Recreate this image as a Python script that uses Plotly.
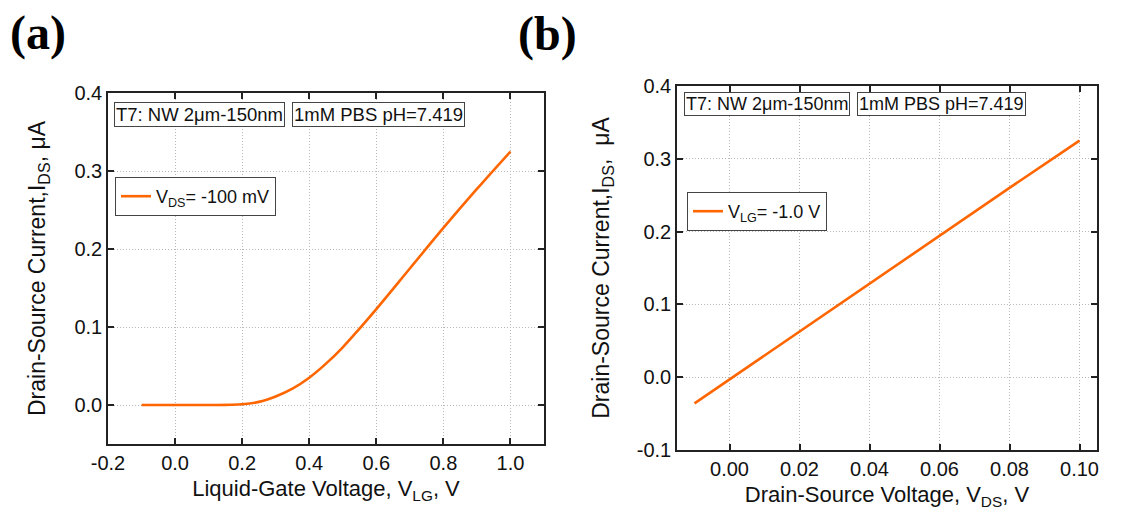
import plotly.graph_objects as go

# Panel (a): transfer curve
vlg = [-0.1, 0.0, 0.1, 0.2, 0.25, 0.3, 0.35, 0.4, 0.45, 0.5, 0.55, 0.6, 0.7, 0.8, 0.9, 1.0]
ids_a = [0.0, 0.0, 0.0, 0.001, 0.004, 0.011, 0.021, 0.035, 0.053, 0.074, 0.098, 0.123, 0.175, 0.227, 0.277, 0.325]

# Panel (b): output curve
vds = [-0.01, 0.0, 0.02, 0.04, 0.06, 0.08, 0.10]
ids_b = [-0.036, -0.003, 0.063, 0.128, 0.194, 0.260, 0.325]

# Tick values / labels
xa_ticks = [-0.2, 0.0, 0.2, 0.4, 0.6, 0.8, 1.0]
xa_labels = ["-0.2", "0.0", "0.2", "0.4", "0.6", "0.8", "1.0"]
ya_ticks = [0.0, 0.1, 0.2, 0.3, 0.4]
ya_labels = ["0.0", "0.1", "0.2", "0.3", "0.4"]
xb_ticks = [0.0, 0.02, 0.04, 0.06, 0.08, 0.10]
xb_labels = ["0.00", "0.02", "0.04", "0.06", "0.08", "0.10"]
yb_ticks = [-0.1, 0.0, 0.1, 0.2, 0.3, 0.4]
yb_labels = ["-0.1", "0.0", "0.1", "0.2", "0.3", "0.4"]

W, H = 1140, 511
ORANGE = "rgb(255,102,0)"
FONT = "Liberation Sans, Arial, sans-serif"

def px(x):
    return x / W

def py(y):
    return 1 - y / H

fig = go.Figure()
fig.add_trace(go.Scatter(x=vlg, y=ids_a, mode="lines",
                         line=dict(color=ORANGE, width=2.6, shape="spline", smoothing=1.0),
                         name="V<sub>DS</sub>= -100 mV", xaxis="x", yaxis="y", legend="legend"))
fig.add_trace(go.Scatter(x=vds, y=ids_b, mode="lines", line=dict(color=ORANGE, width=2.6),
                         name="V<sub>LG</sub>= -1.0 V", xaxis="x2", yaxis="y2", legend="legend2"))

axis_common = dict(showline=True, linecolor="#222", linewidth=1.5, mirror="ticks",
                   ticks="inside", ticklen=6, tickcolor="#222", tickwidth=1.5,
                   showgrid=True, gridcolor="#b8b8b8", griddash="1px,2px", gridwidth=1,
                   zeroline=False, automargin=False, tickmode="array",
                   tickfont=dict(family=FONT, size=20, color="#111"))

XTITLE_FONT = dict(size=22, family=FONT, color="#111")
YTITLE_FONT = dict(size=23, family=FONT, color="#111")

fig.update_layout(
    width=W, height=H, margin=dict(l=0, r=0, t=0, b=0),
    plot_bgcolor="white", paper_bgcolor="white",
    font=dict(family=FONT, color="#111"),
    xaxis=dict(axis_common, domain=[px(108), px(544)], range=[-0.2, 1.1],
               tickvals=xa_ticks, ticktext=xa_labels, anchor="y",
               title=dict(text="Liquid-Gate Voltage, V<sub>LG</sub>, V", font=XTITLE_FONT, standoff=8)),
    yaxis=dict(axis_common, domain=[py(444), py(93)], range=[-0.05, 0.4],
               tickvals=ya_ticks, ticktext=ya_labels, anchor="x",
               title=dict(text="Drain-Source Current,I<sub>DS</sub>, μA", font=YTITLE_FONT, standoff=22)),
    xaxis2=dict(axis_common, domain=[px(677), px(1097)], range=[-0.015, 0.105],
                tickvals=xb_ticks, ticktext=xb_labels, anchor="y2",
                title=dict(text="Drain-Source Voltage, V<sub>DS</sub>, V", font=XTITLE_FONT, standoff=8)),
    yaxis2=dict(axis_common, domain=[py(450), py(86)], range=[-0.1, 0.4],
                tickvals=yb_ticks, ticktext=yb_labels, anchor="x2",
                title=dict(text="Drain-Source Current,I<sub>DS</sub>,  μA", font=YTITLE_FONT, standoff=21)),
    legend=dict(x=px(115), y=py(177), xanchor="left", yanchor="top", bgcolor="white",
                bordercolor="#444", borderwidth=1, font=dict(size=18, family=FONT, color="#111"),
                itemwidth=30, tracegroupgap=0),
    legend2=dict(x=px(687), y=py(192), xanchor="left", yanchor="top", bgcolor="white",
                 bordercolor="#444", borderwidth=1, font=dict(size=18, family=FONT, color="#111"),
                 itemwidth=30, tracegroupgap=0),
    showlegend=True,
)

boxes = [
    ("T7: NW 2μm-150nm", 114, 114, 18.5),
    ("1mM PBS pH=7.419", 292, 114, 18.5),
    ("T7: NW 2μm-150nm", 684, 104, 18),
    ("1mM PBS pH=7.419", 857, 104, 18),
]
for text, x0, yc, fs in boxes:
    fig.add_annotation(text=text, xref="paper", yref="paper", x=px(x0), y=py(yc),
                       xanchor="left", yanchor="middle", showarrow=False,
                       font=dict(family=FONT, size=fs, color="#111"),
                       bgcolor="white", bordercolor="#444", borderwidth=1, borderpad=1)

for text, x0, yc in [("(a)", 8, 33), ("(b)", 516, 34)]:
    fig.add_annotation(text="<b>" + text + "</b>", xref="paper", yref="paper", x=px(x0), y=py(yc),
                       xanchor="left", yanchor="middle", showarrow=False,
                       font=dict(family="Liberation Serif, Times New Roman, serif", size=48, color="#000"))

fig.write_html("out.html")
